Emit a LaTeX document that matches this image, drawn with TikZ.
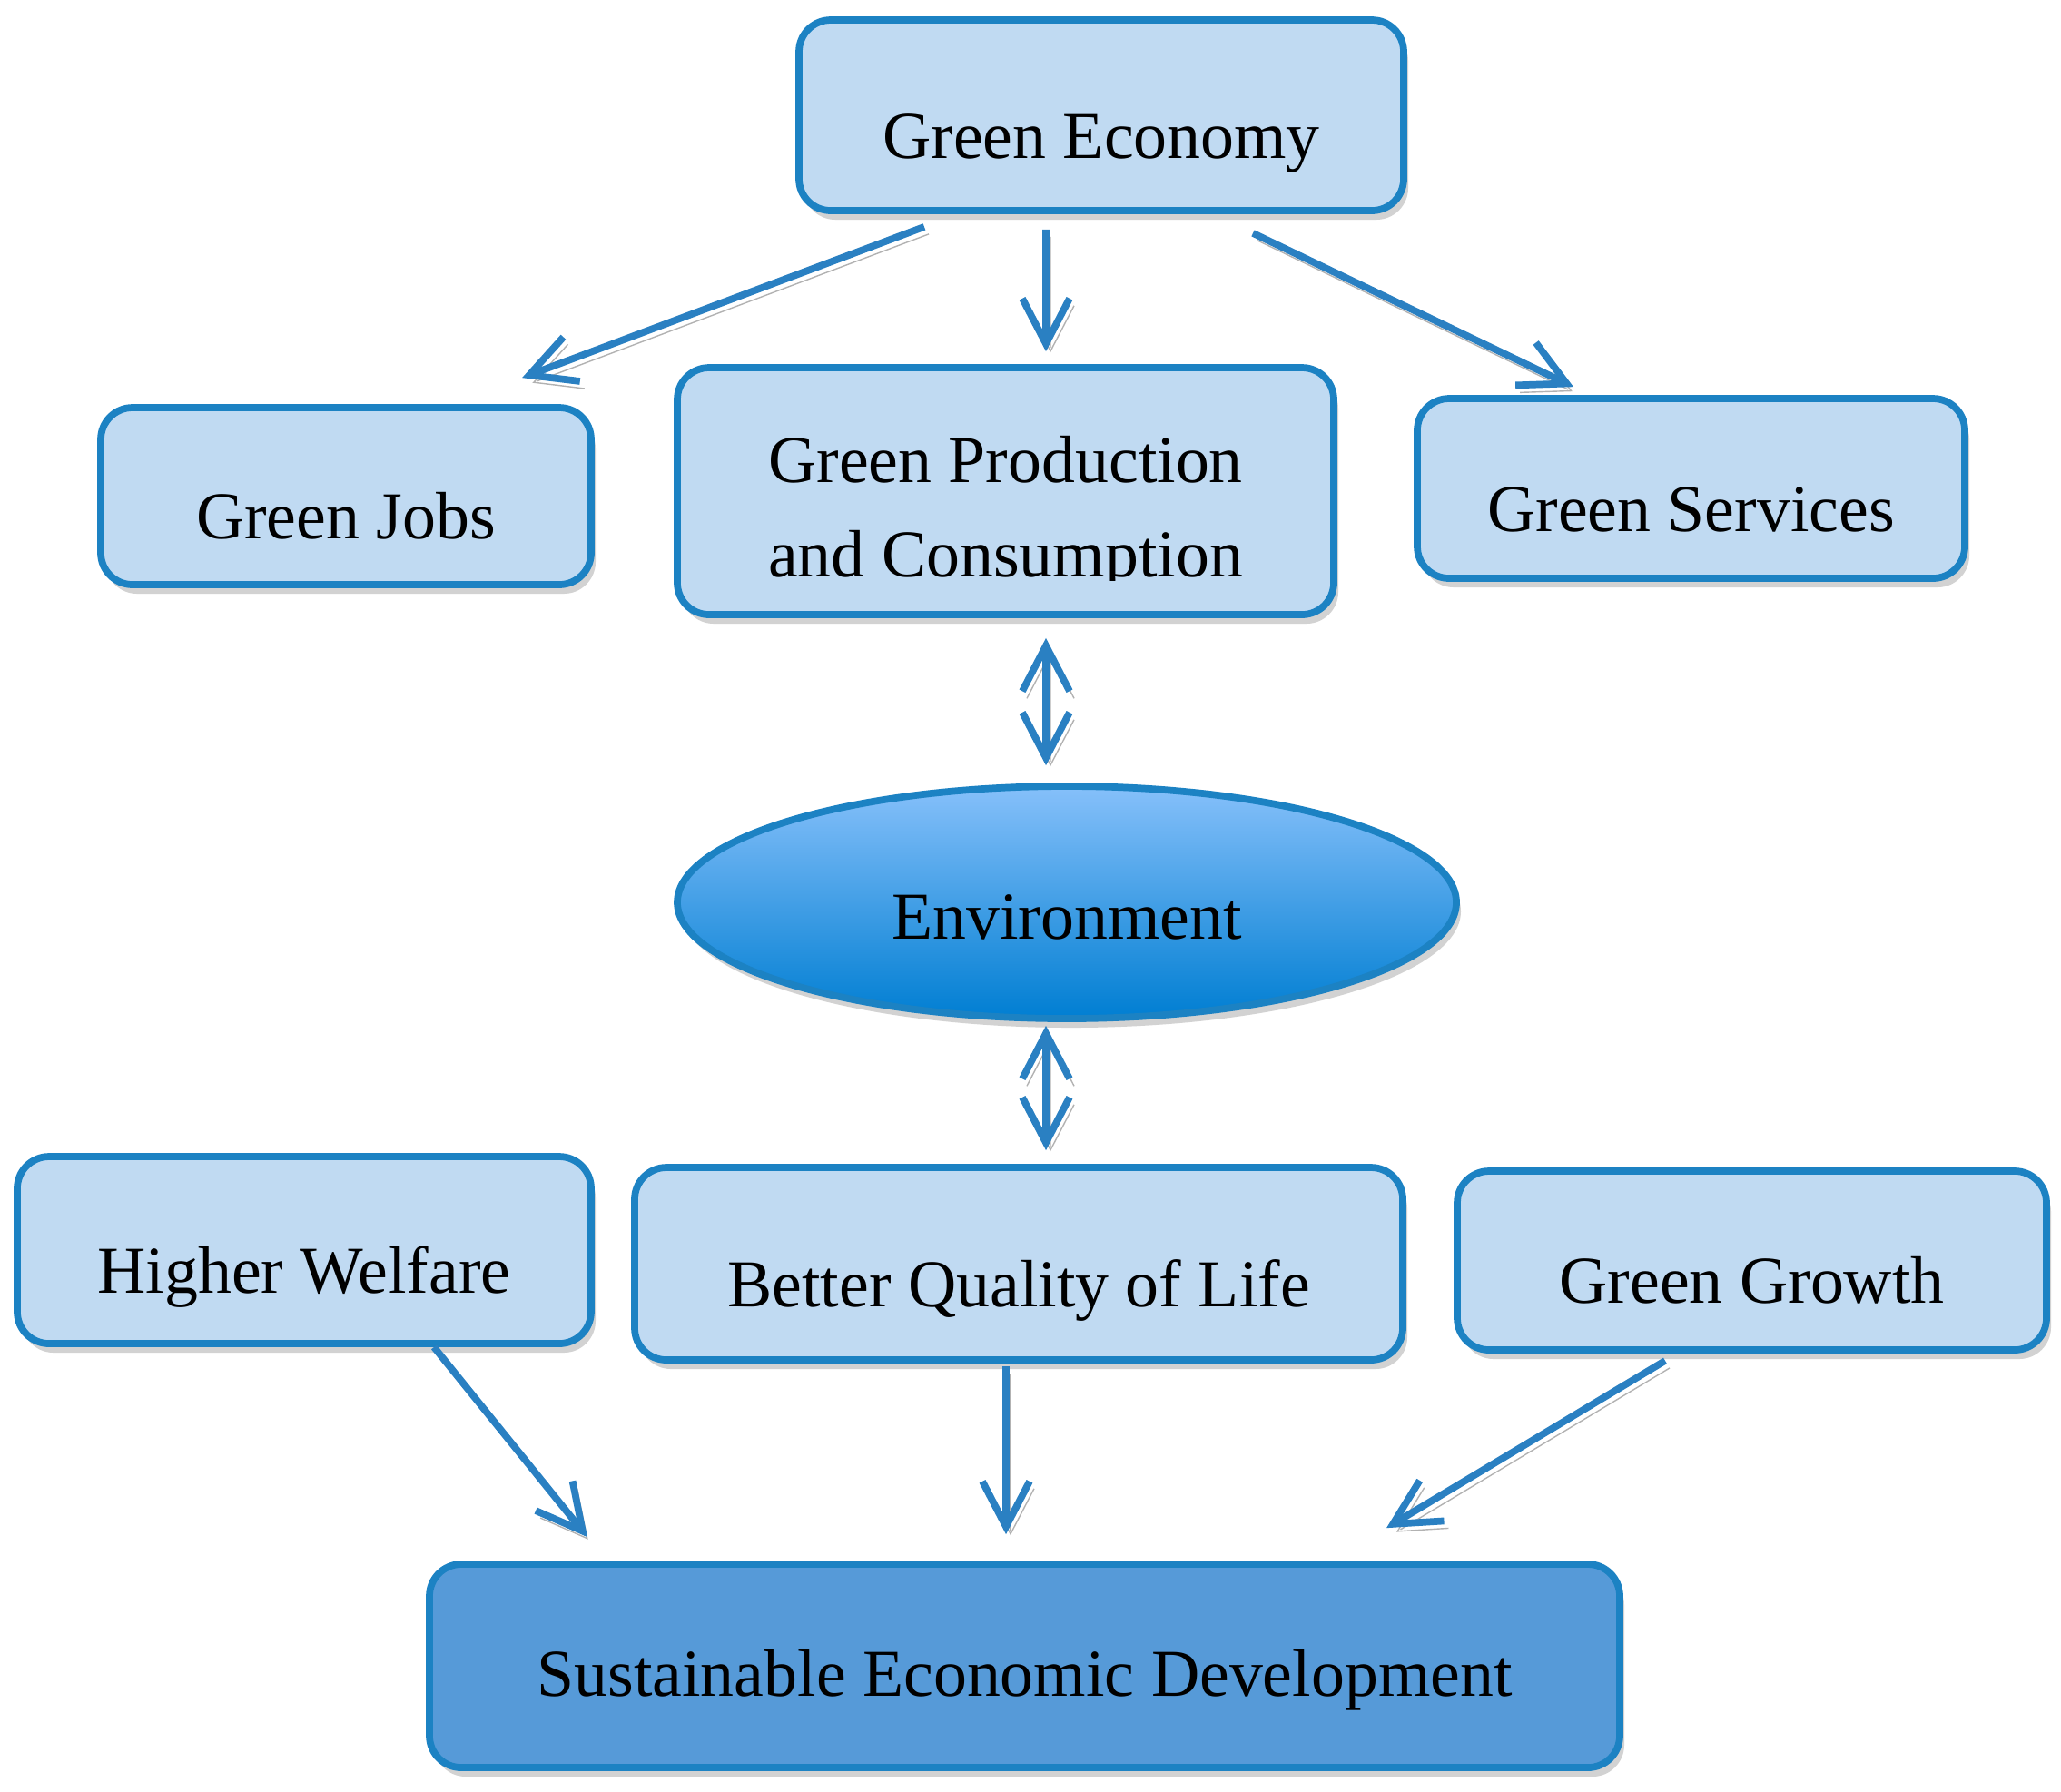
\documentclass[tikz,border=0pt]{standalone}
\usepackage{fontspec}
\setmainfont{Liberation Serif}
\usetikzlibrary{positioning, shapes.geometric, arrows.meta, shadows}
\definecolor{boxfill}{RGB}{192,218,242}
\definecolor{boxline}{RGB}{28,130,195}
\definecolor{arrline}{RGB}{42,128,194}
\definecolor{susfill}{RGB}{86,154,216}
\definecolor{envtop}{RGB}{134,192,250}
\definecolor{envbot}{RGB}{0,126,210}
\tikzset{
	box/.style={
		rectangle,
		draw=boxline,
		line width=2.2pt,
		rounded corners=0.35cm,
		fill=boxfill,
		text centered,
		inner sep=0pt,
		text height=1.09cm,
		text depth=0.15cm,
		drop shadow={shadow xshift=0.05cm, shadow yshift=-0.1cm, fill=black!35},
	},
	bigbox/.style={
		box,
		fill=susfill,
		text height=0.81cm,
	},
	env/.style={
		ellipse,
		draw=boxline,
		line width=2.2pt,
		top color=envtop,
		bottom color=envbot,
		inner sep=0pt,
		text height=0.95cm,
		text depth=0.15cm,
		drop shadow={shadow xshift=0.05cm, shadow yshift=-0.1cm, fill=black!35},
	},
	arr/.style={
		draw=arrline,
		line width=2.2pt,
		-{Straight Barb[length=0.5cm, width=0.52cm]},
		preaction={draw=black!30, transform canvas={xshift=0.05cm, yshift=-0.08cm}},
	},
	darr/.style={
		arr,
		{Straight Barb[length=0.5cm, width=0.52cm]}-{Straight Barb[length=0.5cm, width=0.52cm]},
	},
}

\begin{document}
\begin{tikzpicture}[font=\fontsize{21}{29.5}\selectfont]
	\useasboundingbox (0,0) rectangle (22.70,-19.73);

	\node [box, minimum width=6.66cm, minimum height=2.10cm] (ge) at (12.13,-1.27) {Green Economy};
	\node [box, minimum width=5.40cm, minimum height=1.95cm] (jobs) at (3.81,-5.465) {Green Jobs};
	\node [box, minimum width=7.23cm, minimum height=2.72cm] (prod) at (11.075,-5.41) {};
	\node [box, minimum width=6.03cm, minimum height=1.98cm] (serv) at (18.625,-5.38) {Green Services};
	\node [env, minimum width=8.58cm, minimum height=2.56cm] (envir) at (11.75,-9.94) {Environment};
	\node [box, minimum width=6.32cm, minimum height=2.06cm] (welf) at (3.35,-13.77) {Higher Welfare};
	\node [box, minimum width=8.46cm, minimum height=2.12cm] (life) at (11.22,-13.92) {Better Quality of Life};
	\node [box, minimum width=6.49cm, minimum height=1.97cm] (grow) at (19.295,-13.885) {Green Growth};
	\node [bigbox, minimum width=13.11cm, minimum height=2.24cm] (sus) at (11.285,-18.35) {Sustainable Economic Development};

	% second line is cut off at the bottom
	\begin{scope}
		\clip (prod.west |- 0,-4.50) rectangle (prod.east |- 0,-6.39);
		\node [align=center, inner sep=0pt, anchor=north] (prodtext) at (11.075,-4.80) {Green Production\\and Consumption};
	\end{scope}

	\draw [arr] ([shift={(-1.95,-0.14)}]ge.south) -- ([shift={(1.94,0.29)}]jobs.north);
	\draw [arr] ([shift={(-0.61,-0.17)}]ge.south) -- ([shift={(0.445,0.14)}]prod.north);
	\draw [arr] ([shift={(1.67,-0.21)}]ge.south) -- ([shift={(-1.295,0.09)}]serv.north);
	\draw [darr] ([shift={(0.445,-0.22)}]prod.south) -- ([shift={(-0.23,0.19)}]envir.north);
	\draw [darr] ([shift={(-0.23,-0.04)}]envir.south) -- ([shift={(0.30,0.15)}]life.north);
	\draw [arr] ([shift={(1.43,0)}]welf.south) -- ([shift={(-4.815,0.26)}]sus.north);
	\draw [arr] ([shift={(-0.14,-0.03)}]life.south) -- ([shift={(-0.205,0.29)}]sus.north);
	\draw [arr] ([shift={(-0.955,-0.08)}]grow.south) -- ([shift={(3.985,0.36)}]sus.north);
\end{tikzpicture}
\end{document}
